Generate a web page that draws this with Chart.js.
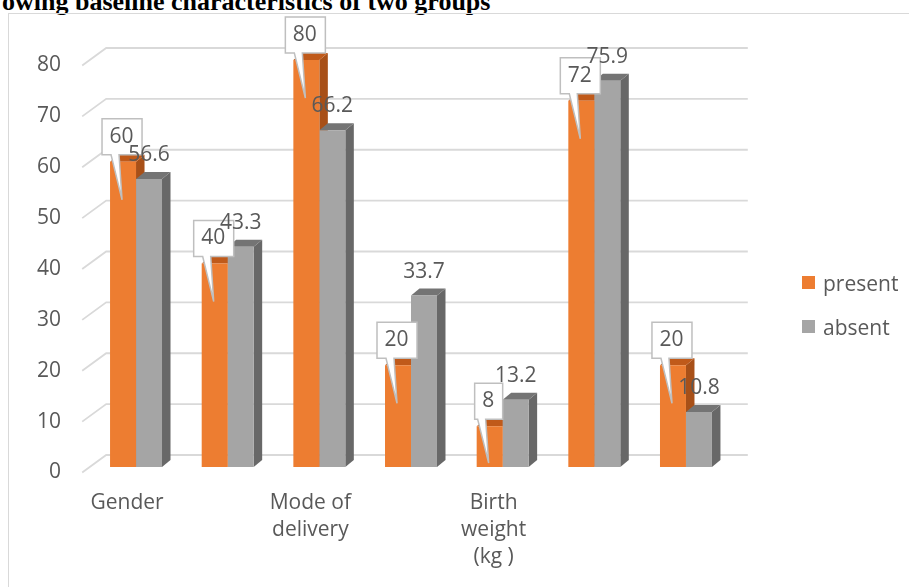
<!DOCTYPE html>
<html lang="en">
<head>
<meta charset="UTF-8">
<title>Baseline characteristics of two groups</title>
<script src="https://cdn.jsdelivr.net/npm/chart.js@4.4.8/dist/chart.umd.min.js"></script>
<style>
  body { margin: 0; width: 909px; height: 587px; overflow: hidden; position: relative; background: #fff; }
  .heading { position: absolute; left: 2px; top: -13px; line-height: 26px; white-space: nowrap;
             font: bold 26px "Liberation Serif", "Times New Roman", serif; color: #000; }
  .frame { position: absolute; left: 8px; top: 13px; width: 1000px; height: 700px;
           border: 1.5px solid #d9d9d9; box-sizing: border-box; }
  #chart { position: absolute; left: 0; top: 0; }
  .legend { position: absolute; left: 802px; font: 21px "Open Sans", sans-serif; color: #595959; }
  .legend div { position: relative; height: 28px; line-height: 28px; padding-left: 21px; white-space: nowrap; }
  .legend span { position: absolute; left: 0; top: 7px; width: 13px; height: 13px; }
</style>
</head>
<body>
<div class="heading">owing baseline characteristics of two groups</div>
<div class="frame"></div>
<canvas id="chart" width="909" height="587"></canvas>
<div class="legend" style="top:269px">
  <div><span style="background:#ED7D31"></span>present</div>
</div>
<div class="legend" style="top:313px">
  <div><span style="background:#A5A5A5"></span>absent</div>
</div>

<script>
// categories and values per group
const categories = [['Gender'], '', ['Mode of', 'delivery'], '', ['Birth', 'weight', '(kg )'], '', ''];
const presentValues = [60, 40, 80, 20, 8, 72, 20];
const absentValues = [56.6, 43.3, 66.2, 33.7, 13.2, 75.9, 10.8];

const TEXT = '#595959';
const FONT_FAMILY = '"Open Sans", sans-serif';
const DX = 8.5, DY = 7;  // bar depth
const faces = [
  { top: '#C05A1A', side: '#A85018' },
  { top: '#747474', side: '#686868' }
];

// back wall gridlines + top/side faces of the columns
const depthPlugin = {
  id: 'depth',
  beforeDatasetsDraw(chart) {
    const { ctx, chartArea, scales } = chart;
    const y = scales.y;
    ctx.save();
    ctx.strokeStyle = '#d9d9d9';
    ctx.lineWidth = 1.8;
    y.ticks.forEach(t => {
      const py = y.getPixelForValue(t.value);
      ctx.beginPath();
      ctx.moveTo(chartArea.left - 8, py + 5.5);
      ctx.lineTo(chartArea.left + 16, py - 12);
      ctx.lineTo(chartArea.right + 16, py - 12);
      ctx.stroke();
    });

    const metas = [chart.getDatasetMeta(0), chart.getDatasetMeta(1)];
    for (let i = 0; i < categories.length; i++) {
      metas.forEach((meta, d) => {
        const bar = meta.data[i];
        const x0 = bar.x - bar.width / 2, x1 = bar.x + bar.width / 2;
        ctx.fillStyle = faces[d].side;
        ctx.beginPath();
        ctx.moveTo(x1, bar.y);
        ctx.lineTo(x1 + DX, bar.y - DY);
        ctx.lineTo(x1 + DX, bar.base - DY);
        ctx.lineTo(x1, bar.base);
        ctx.closePath();
        ctx.fill();
        ctx.fillStyle = faces[d].top;
        ctx.beginPath();
        ctx.moveTo(x0, bar.y);
        ctx.lineTo(x1, bar.y);
        ctx.lineTo(x1 + DX, bar.y - DY);
        ctx.lineTo(x0 + DX, bar.y - DY);
        ctx.closePath();
        ctx.fill();
      });
    }
    ctx.restore();
  },
  afterDatasetsDraw(chart) {
    const { ctx } = chart;
    ctx.save();
    ctx.font = '21px ' + FONT_FAMILY;
    ctx.textAlign = 'center';
    ctx.textBaseline = 'middle';

    // callouts for "present"
    chart.getDatasetMeta(0).data.forEach((bar, i) => {
      const text = String(presentValues[i]);
      const w = ctx.measureText(text).width + 16, h = 36;
      const bx = bar.x, top = bar.y;
      const cx = bx - 1;
      const x0 = cx - w / 2, x1 = cx + w / 2, y0 = top - 7 - h, y1 = top - 7;
      const tipY = Math.min(top + 38, bar.base - 4);
      ctx.beginPath();
      ctx.moveTo(x0, y0);
      ctx.lineTo(x1, y0);
      ctx.lineTo(x1, y1);
      ctx.lineTo(bx - 4, y1);
      ctx.lineTo(bx - 1, tipY);
      ctx.lineTo(bx - 12, y1);
      ctx.lineTo(x0, y1);
      ctx.closePath();
      ctx.fillStyle = '#fff';
      ctx.fill();
      ctx.strokeStyle = '#bfbfbf';
      ctx.lineWidth = 1.5;
      ctx.stroke();
      ctx.fillStyle = TEXT;
      ctx.fillText(text, bx - 1.5, top - 25);
    });

    // plain labels for "absent"
    ctx.fillStyle = TEXT;
    chart.getDatasetMeta(1).data.forEach((bar, i) => {
      ctx.fillText(String(absentValues[i]), bar.x, bar.y - 24);
    });
    ctx.restore();
  }
};

new Chart(document.getElementById('chart'), {
  type: 'bar',
  data: {
    labels: categories,
    datasets: [
      { label: 'present', data: presentValues, backgroundColor: '#ED7D31' },
      { label: 'absent', data: absentValues, backgroundColor: '#A5A5A5' }
    ]
  },
  options: {
    responsive: false,
    animation: false,
    events: [],
    categoryPercentage: 0.567,
    barPercentage: 1,
    layout: { padding: { top: 60, right: 177.2, bottom: 0, left: 0 } },
    plugins: { legend: { display: false }, tooltip: { enabled: false } },
    scales: {
      x: {
        grid: { display: false, drawTicks: false },
        border: { display: false },
        afterFit(scale) { scale.height = 120; },
        ticks: {
          autoSkip: false, maxRotation: 0, padding: 22.5, labelOffset: -9,
          color: TEXT, font: { family: FONT_FAMILY, size: 21, lineHeight: 27 / 21 }
        }
      },
      y: {
        min: 0, max: 80,
        grid: { display: false, drawTicks: false },
        border: { display: false },
        afterFit(scale) { scale.width = 90.2; },
        ticks: {
          stepSize: 10, padding: 29.2, labelOffset: 5.5,
          color: TEXT, font: { family: FONT_FAMILY, size: 21 }
        }
      }
    }
  },
  plugins: [depthPlugin]
});
</script>
</body>
</html>
